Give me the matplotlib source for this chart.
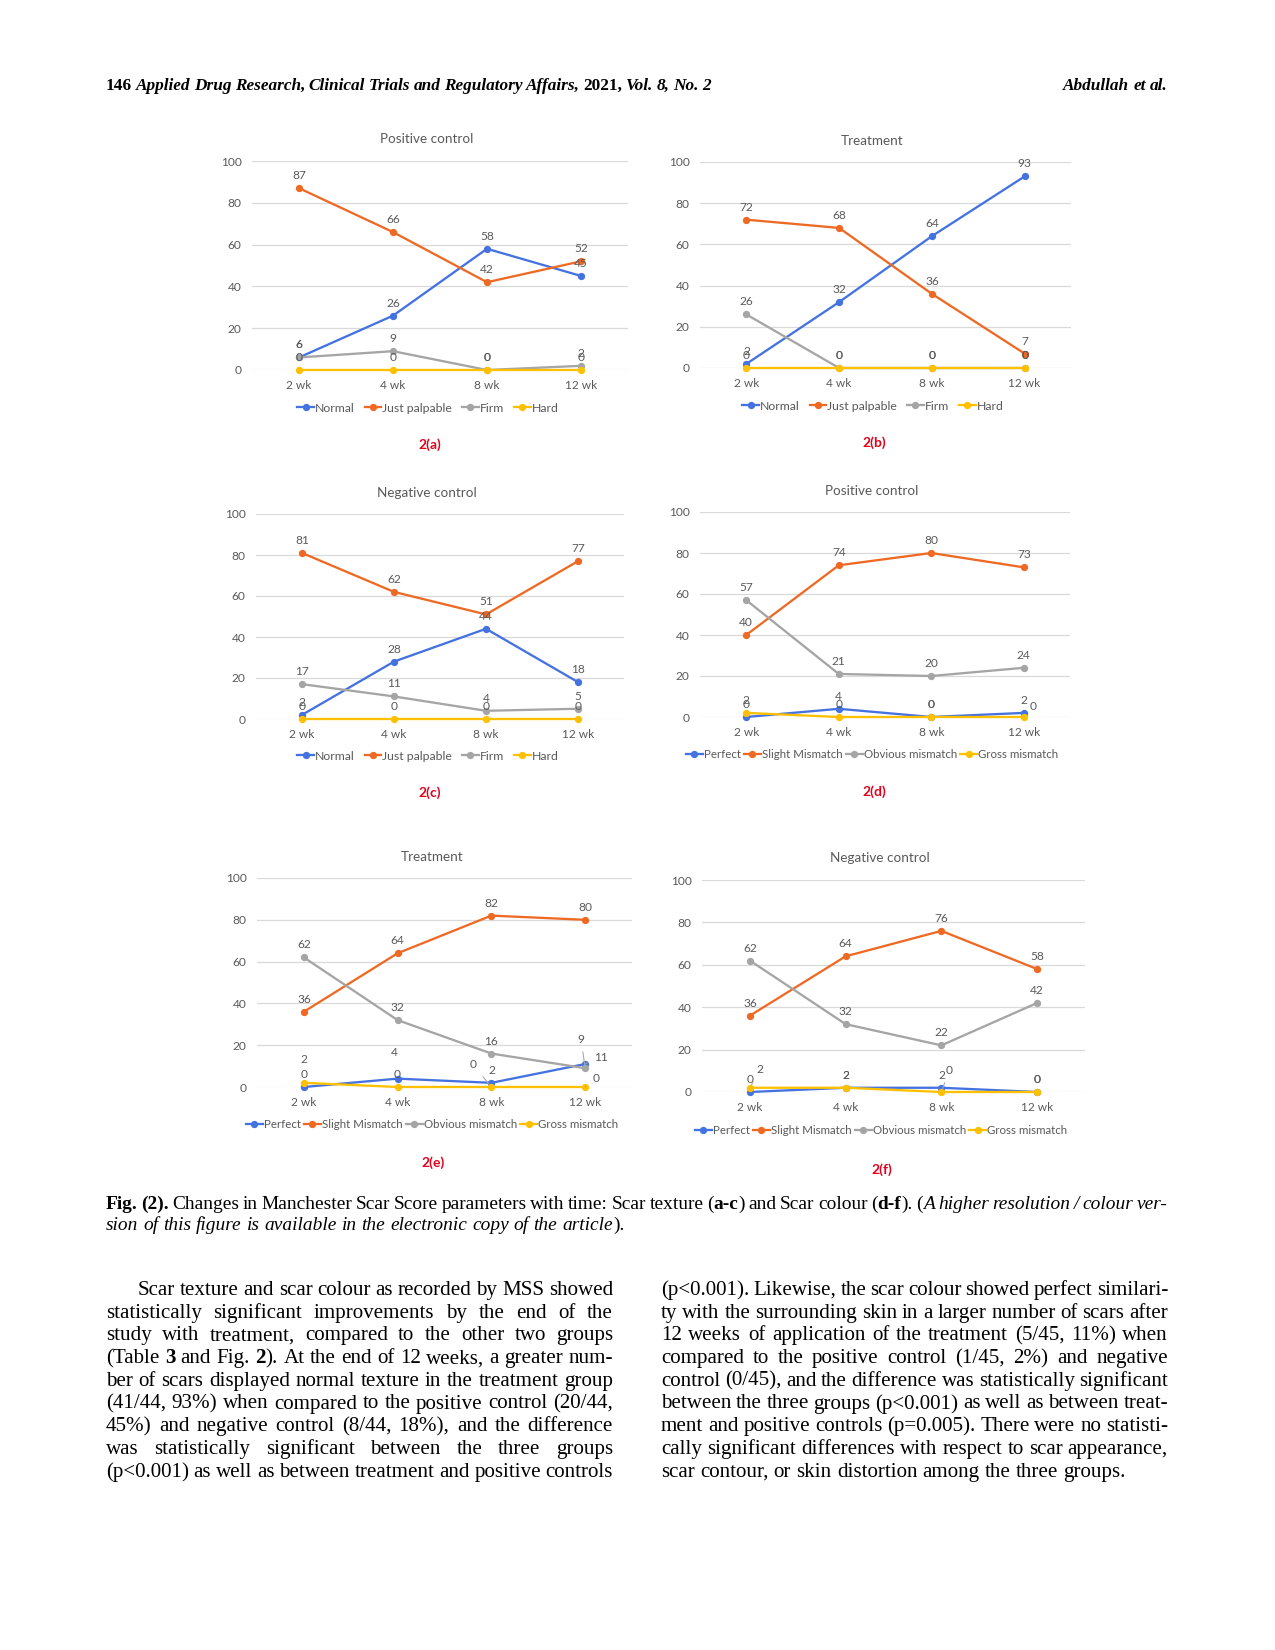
import matplotlib
matplotlib.use("Agg")
import matplotlib.pyplot as plt

W, H = 1275, 1650

weeks = ["2 wk", "4 wk", "8 wk", "12 wk"]
texture_names = ["Normal", "Just palpable", "Firm", "Hard"]
colour_names = ["Perfect", "Slight Mismatch", "Obvious mismatch", "Gross mismatch"]

# scar texture (%)
a_normal = [6, 26, 58, 45]
a_palpable = [87, 66, 42, 52]
a_firm = [6, 9, 0, 2]
a_hard = [0, 0, 0, 0]

b_normal = [2, 32, 64, 93]
b_palpable = [72, 68, 36, 7]
b_firm = [26, 0, 0, 0]
b_hard = [0, 0, 0, 0]

c_normal = [2, 28, 44, 18]
c_palpable = [81, 62, 51, 77]
c_firm = [17, 11, 4, 5]
c_hard = [0, 0, 0, 0]

# scar colour (%)
d_perfect = [0, 4, 0, 2]
d_slight = [40, 74, 80, 73]
d_obvious = [57, 21, 20, 24]
d_gross = [2, 0, 0, 0]

e_perfect = [0, 4, 2, 11]
e_slight = [36, 64, 82, 80]
e_obvious = [62, 32, 16, 9]
e_gross = [2, 0, 0, 0]

f_perfect = [0, 2, 2, 0]
f_slight = [36, 64, 76, 58]
f_obvious = [62, 32, 22, 42]
f_gross = [2, 2, 0, 0]

colors = ["#4472E0", "#EE6A24", "#A5A5A5", "#FFC000"]
grey_txt = "#595959"

# (title, tag, names, series, plot box px (x0,y0,x1,y1), title pos, legend pos, tag pos)
panels = [
    ("Positive control", "2(a)", texture_names, [a_normal, a_palpable, a_firm, a_hard],
     (252, 161, 628, 370), (427, 139), (428, 408), (430, 445)),
    ("Treatment", "2(b)", texture_names, [b_normal, b_palpable, b_firm, b_hard],
     (700, 162, 1071, 368), (872, 141), (873, 406), (874, 443)),
    ("Negative control", "2(c)", texture_names, [c_normal, c_palpable, c_firm, c_hard],
     (256, 514, 624, 719), (427, 493), (428, 756), (430, 793)),
    ("Positive control", "2(d)", colour_names, [d_perfect, d_slight, d_obvious, d_gross],
     (700, 512, 1070, 717), (872, 491), (872, 755), (874, 792)),
    ("Treatment", "2(e)", colour_names, [e_perfect, e_slight, e_obvious, e_gross],
     (257, 878, 632, 1087), (432, 857), (432, 1125), (433, 1163)),
    ("Negative control", "2(f)", colour_names, [f_perfect, f_slight, f_obvious, f_gross],
     (702, 880, 1085, 1092), (880, 858), (881, 1131), (882, 1170)),
]

# moved data labels: (panel, series, week) -> (dx, dy in px, leader line)
label_moves = {
    (3, 3, 3): (9, 10, False),
    (4, 3, 0): (0, 23, False),
    (4, 0, 1): (-3, 26, False),
    (4, 3, 2): (-18, 22, True),
    (4, 2, 3): (-4, 29, True),
    (4, 0, 3): (16, 7, True),
    (4, 3, 3): (11, 9, True),
    (5, 3, 0): (10, 18, True),
    (5, 3, 2): (8, 22, True),
}

PT = 72 / 150.0

plt.rcParams['font.family'] = ['Lato', 'DejaVu Sans']
fig = plt.figure(figsize=(W / 150, H / 150), dpi=150)

for p, (title, tag, names, series, box, tpos, lpos, gpos) in enumerate(panels):
    x0, y0, x1, y1 = box
    ax = fig.add_axes([x0 / W, 1 - y1 / H, (x1 - x0) / W, (y1 - y0) / H])
    xs = range(len(weeks))
    for s, vals in enumerate(series):
        ax.plot(xs, vals, color=colors[s], lw=1.1, marker='o', markersize=2.5,
                label=names[s], clip_on=False, zorder=3 + s)
    for s, vals in enumerate(series):
        for i, v in enumerate(vals):
            dx, dy, lead = label_moves.get((p, s, i), (0, 12.5, False))
            kw = {}
            if lead:
                kw['arrowprops'] = dict(arrowstyle='-', color='#A6A6A6', lw=0.5,
                                        shrinkA=1.5, shrinkB=1.5)
            ax.annotate(str(v), (i, v), xytext=(dx * PT, dy * PT), textcoords='offset points',
                        ha='center', va='center', fontsize=5.7, color=grey_txt,
                        zorder=10, annotation_clip=False, **kw)
    ax.set_xlim(-0.5, 3.5)
    ax.set_ylim(0, 100)
    ax.set_yticks(range(0, 101, 20))
    ax.set_xticks(list(xs))
    ax.set_xticklabels(weeks)
    ax.tick_params(length=0, labelsize=5.7, labelcolor=grey_txt)
    ax.tick_params(axis='x', pad=5.0)
    ax.tick_params(axis='y', pad=5.0)
    ax.grid(axis='y', color='#D9D9D9', lw=0.6)
    ax.set_axisbelow(True)
    for sp in ax.spines.values():
        sp.set_visible(False)
    if names is texture_names:
        lfs, lhl, lcs = 5.9, 1.35, 0.8
    else:
        lfs, lhl, lcs = 5.5, 1.5, 0.25
    ax.legend(loc='center', bbox_to_anchor=(lpos[0] / W, 1 - lpos[1] / H),
              bbox_transform=fig.transFigure, ncol=4, frameon=False, fontsize=lfs,
              labelcolor=grey_txt, handlelength=lhl, handletextpad=0.1,
              columnspacing=lcs, borderpad=0, markerscale=1.0)
    fig.text(tpos[0] / W, 1 - tpos[1] / H, title, ha='center', va='center',
             fontsize=6.5, color=grey_txt)
    fig.text(gpos[0] / W, 1 - gpos[1] / H, tag, ha='center', va='center',
             fontsize=6.7, color='#E3001B', fontweight='bold')

# ---- page text ----
renderer = fig.canvas.get_renderer()
SERIF = 'Liberation Serif'


def parse_words(line):
    runs, bold, ital, buf = [], False, False, ""
    i = 0
    while i < len(line):
        if line.startswith("**", i):
            if buf:
                runs.append((buf, bold, ital))
            buf = ""
            bold = not bold
            i += 2
            continue
        if line[i] == "_":
            if buf:
                runs.append((buf, bold, ital))
            buf = ""
            ital = not ital
            i += 1
            continue
        buf += line[i]
        i += 1
    if buf:
        runs.append((buf, bold, ital))
    words, cur = [], []
    for txt, b, it in runs:
        parts = txt.split(" ")
        for k, part in enumerate(parts):
            if k > 0 and cur:
                words.append(cur)
                cur = []
            if part:
                cur.append((part, b, it))
    if cur:
        words.append(cur)
    return words


def width(txt, size, b, it):
    t = fig.text(0, 0, txt, family=SERIF, fontsize=size,
                 fontweight='bold' if b else 'normal', style='italic' if it else 'normal')
    w = t.get_window_extent(renderer).width
    t.remove()
    return w


def fits(line, xl, xr, size, minfrac=0.7):
    words = parse_words(line)
    tot = sum(width(r[0], size, r[1], r[2]) for wd in words for r in wd)
    sp = width("a a", size, False, False) - width("aa", size, False, False)
    return tot + minfrac * sp * (len(words) - 1) <= xr - xl


def block_size(lines, xr, start):
    size = start
    while not all(fits(ln, xl, xr, size) for ln, xl in lines):
        size -= 0.1
    return size


def draw_line(line, xl, xr, y, size, justify=True, align='left'):
    words = parse_words(line)
    ww = [[width(r[0], size, r[1], r[2]) for r in wd] for wd in words]
    tot = sum(sum(w) for w in ww)
    sp = width("a a", size, False, False) - width("aa", size, False, False)
    if justify and len(words) > 1:
        gap = (xr - xl - tot) / (len(words) - 1)
    else:
        gap = sp
    full = tot + gap * (len(words) - 1)
    x = xl if align == 'left' else xr - full
    for wd, wl in zip(words, ww):
        for (txt, b, it), w in zip(wd, wl):
            fig.text(x / W, 1 - y / H, txt, family=SERIF, fontsize=size, ha='left',
                     va='baseline', fontweight='bold' if b else 'normal',
                     style='italic' if it else 'normal', color='black')
            x += w
        x += gap


header = "**146**  **_Applied Drug Research, Clinical Trials and Regulatory Affairs,_** **2021,** **_Vol. 8, No. 2_**"
hs = block_size([(header, 106)], 711, 9.5)
draw_line(header, 106, 711, 90, hs)
draw_line("**_Abdullah et al._**", 106, 1168, 90, hs, justify=False, align='right')

cap1 = "**Fig. (2).** Changes in Manchester Scar Score parameters with time: Scar texture (**a-c**) and Scar colour (**d-f**). (_A higher resolution / colour ver-_"
cs = block_size([(cap1, 106)], 1168, 10.5)
draw_line(cap1, 106, 1168, 1209, cs)
draw_line("_sion of this figure is available in the electronic copy of the article_).",
          106, 1168, 1230, cs, justify=False)

left_col = [
    "Scar texture and scar colour as recorded by MSS showed",
    "statistically significant improvements by the end of the",
    "study with treatment, compared to the other two groups",
    "(Table **3** and Fig. **2**). At the end of 12 weeks, a greater num-",
    "ber of scars displayed normal texture in the treatment group",
    "(41/44, 93%) when compared to the positive control (20/44,",
    "45%) and negative control (8/44, 18%), and the difference",
    "was statistically significant between the three groups",
    "(p<0.001) as well as between treatment and positive controls",
]
right_col = [
    "(p<0.001). Likewise, the scar colour showed perfect similari-",
    "ty with the surrounding skin in a larger number of scars after",
    "12 weeks of application of the treatment (5/45, 11%) when",
    "compared to the positive control (1/45, 2%) and negative",
    "control (0/45), and the difference was statistically significant",
    "between the three groups (p<0.001) as well as between treat-",
    "ment and positive controls (p=0.005). There were no statisti-",
    "cally significant differences with respect to scar appearance,",
    "scar contour, or skin distortion among the three groups.",
]

bs = block_size([(ln, 138 if i == 0 else 106) for i, ln in enumerate(left_col)], 613, 11.0)
bs = min(bs, block_size([(ln, 661) for ln in right_col], 1168, 11.0))

y0, dy = 1295, 22.7
for i, ln in enumerate(left_col):
    draw_line(ln, 138 if i == 0 else 106, 613, y0 + i * dy, bs)
for i, ln in enumerate(right_col):
    draw_line(ln, 661, 1168, y0 + i * dy, bs, justify=(i < len(right_col) - 1))

fig.savefig("out.png", dpi=150)
